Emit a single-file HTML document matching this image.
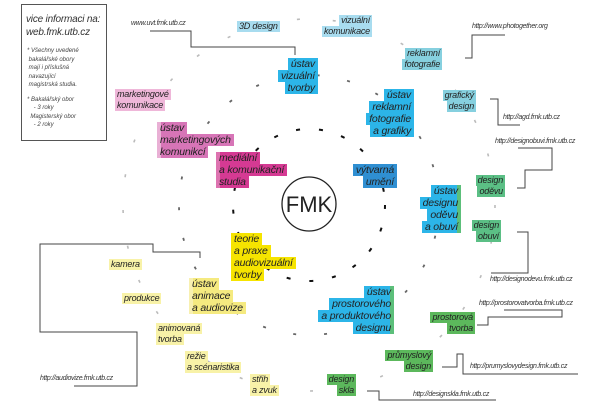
<!DOCTYPE html>
<html><head><meta charset="utf-8"><style>
*{margin:0;padding:0;box-sizing:border-box}
body{width:606px;height:406px;background:#fff;position:relative;overflow:hidden;font-family:"Liberation Sans",sans-serif;font-style:italic;color:#222}
svg{position:absolute;left:0;top:0;font-style:normal}
.l{position:absolute;display:flex;flex-direction:column;align-items:flex-start;font-size:9px;line-height:11px;letter-spacing:-0.2px}
.l.r{align-items:flex-end}
.l span{padding:0 2px;display:block;white-space:nowrap}
.b{font-size:10.5px;line-height:12px}
.b span{padding:0 3px}
.u{position:absolute;font-size:7px;letter-spacing:-0.3px;white-space:nowrap;color:#333}
.lb span{background:#a8dcef}
.bb span{background:#2cb5e8}
.cy span{background:#86d0df}
.db span{background:#2f8fd2}
.gr span{background:#5bbf85}
.gg span{background:#5cb85c}
.bg span{background:#2cb5e8;box-shadow:inset -4px 0 0 #5cbf7a}
.pl span{background:#efb7d9}
.pm span{background:#d775b7;box-shadow:inset 4px 0 0 #e9b0d5}
.mg span{background:#d53a93;box-shadow:inset 4px 0 0 #dd73b0}
.y1 span{background:#f6e400}
.y2 span{background:#f5ea80;box-shadow:inset 4px 0 0 #f8f0b0}
.y3 span{background:#f8f2a8}
</style></head><body>
<svg width="606" height="406">
<circle cx="309" cy="205" r="186" fill="none" stroke="#bbb" stroke-width="1.6" stroke-dasharray="3 33"/>
<circle cx="309" cy="205" r="130" fill="none" stroke="#666" stroke-width="1.8" stroke-dasharray="3 28"/>
<circle cx="309" cy="205" r="76" fill="none" stroke="#111" stroke-width="2" stroke-dasharray="4 19"/>
<circle cx="309" cy="204" r="27" fill="#fff" stroke="#222" stroke-width="1.3"/>
<text x="309" y="212" font-family="Liberation Sans" font-size="22" text-anchor="middle" fill="#222">FMK</text>
<rect x="21.5" y="4.5" width="85" height="136" fill="none" stroke="#555"/>
<g fill="none" stroke="#444" stroke-width="1">
<polyline points="150,31 191,31 191,47 295,47 295,55"/>
<polyline points="505,35 472,35 472,58 465,58"/>
<polyline points="490,99 498,99 498,125 520,125"/>
<polyline points="518,148 552,148 552,170 525,170 525,188 517,188"/>
<polyline points="517,232 528,232 528,273 491,273"/>
<polyline points="504,310 562,310 562,317 488,317 488,325 477,325"/>
<polyline points="442,367 457,367 457,354 463,354 463,374 578,374"/>
<polyline points="367,391 379,391 379,400 496,400"/>
<polyline points="74,386 137,386 137,332 40,332 40,244 153,244 153,252 200,252 200,258"/>
</g>
</svg>
<div style="position:absolute;left:26px;top:13px;font-size:10px;line-height:13px;color:#333;letter-spacing:-0.2px">vice informaci na:<br>web.fmk.utb.cz</div>
<div style="position:absolute;left:27px;top:47px;font-size:6px;line-height:8.5px;color:#444">* Všechny uvedené<br>&nbsp;bakalářské obory<br>&nbsp;mají i příslušná<br>&nbsp;navazující<br>&nbsp;magistrská studia.<br><div style="height:6px"></div>* Bakalářský obor<br>&nbsp;&nbsp;&nbsp;&nbsp;- 3 roky<br>&nbsp;&nbsp;Magisterský obor<br>&nbsp;&nbsp;&nbsp;&nbsp;- 2 roky</div>
<div class="u" style="left:131px;top:20px">www.uvt.fmk.utb.cz</div>
<div class="u" style="left:472px;top:23px">http://www.photogether.org</div>
<div class="u" style="left:503px;top:114px">http://agd.fmk.utb.cz</div>
<div class="u" style="left:495px;top:138px">http://designobuvi.fmk.utb.cz</div>
<div class="u" style="left:490px;top:276px">http://designodevu.fmk.utb.cz</div>
<div class="u" style="left:479px;top:300px">http://prostorovatvorba.fmk.utb.cz</div>
<div class="u" style="left:470px;top:363px">http://prumyslovydesign.fmk.utb.cz</div>
<div class="u" style="left:413px;top:391px">http://designskla.fmk.utb.cz</div>
<div class="u" style="left:40px;top:375px">http://audiovize.fmk.utb.cz</div>

<div class="l lb" style="left:237px;top:21px"><span>3D design</span></div>
<div class="l r lb" style="right:234px;top:15px"><span>vizuální</span><span>komunikace</span></div>
<div class="l r b bb" style="right:288px;top:58px"><span>ústav</span><span>vizuální</span><span>tvorby</span></div>
<div class="l r cy" style="right:164px;top:48px"><span>reklamní</span><span>fotografie</span></div>
<div class="l r b bb" style="right:192px;top:89px"><span>ústav</span><span>reklamní</span><span>fotografie</span><span>a grafiky</span></div>
<div class="l r cy" style="right:130px;top:90px"><span>grafický</span><span>design</span></div>
<div class="l r b db" style="right:209px;top:164px"><span>výtvarná</span><span>umění</span></div>
<div class="l r gr" style="right:101px;top:175px"><span>design</span><span>oděvu</span></div>
<div class="l r b bg" style="right:145px;top:185px"><span>ústav</span><span>designu</span><span>oděvu</span><span>a obuví</span></div>
<div class="l r gr" style="right:105px;top:220px"><span>design</span><span>obuví</span></div>
<div class="l r b bg" style="right:212px;top:286px"><span>ústav</span><span>prostorového</span><span>a produktového</span><span>designu</span></div>
<div class="l r gg" style="right:131px;top:312px"><span>prostorová</span><span>tvorba</span></div>
<div class="l r gg" style="right:173px;top:350px"><span>průmyslový</span><span>design</span></div>
<div class="l r gg" style="right:250px;top:374px"><span>design</span><span>skla</span></div>

<div class="l pl" style="left:115px;top:89px"><span>marketingové</span><span>komunikace</span></div>
<div class="l b pm" style="left:157px;top:122px"><span>ústav</span><span>marketingových</span><span>komunikcí</span></div>
<div class="l b mg" style="left:216px;top:152px"><span>mediální</span><span>a komunikační</span><span>studia</span></div>
<div class="l b y1" style="left:231px;top:233px"><span>teorie</span><span>a praxe</span><span>audiovizuální</span><span>tvorby</span></div>
<div class="l b y2" style="left:189px;top:278px"><span>ústav</span><span>animace</span><span>a audiovize</span></div>
<div class="l y3" style="left:109px;top:259px"><span>kamera</span></div>
<div class="l y3" style="left:122px;top:293px"><span>produkce</span></div>
<div class="l y3" style="left:156px;top:323px"><span>animovaná</span><span>tvorba</span></div>
<div class="l y3" style="left:185px;top:351px"><span>režie</span><span>a scénaristika</span></div>
<div class="l y3" style="left:250px;top:374px"><span>střih</span><span>a zvuk</span></div>
</body></html>
